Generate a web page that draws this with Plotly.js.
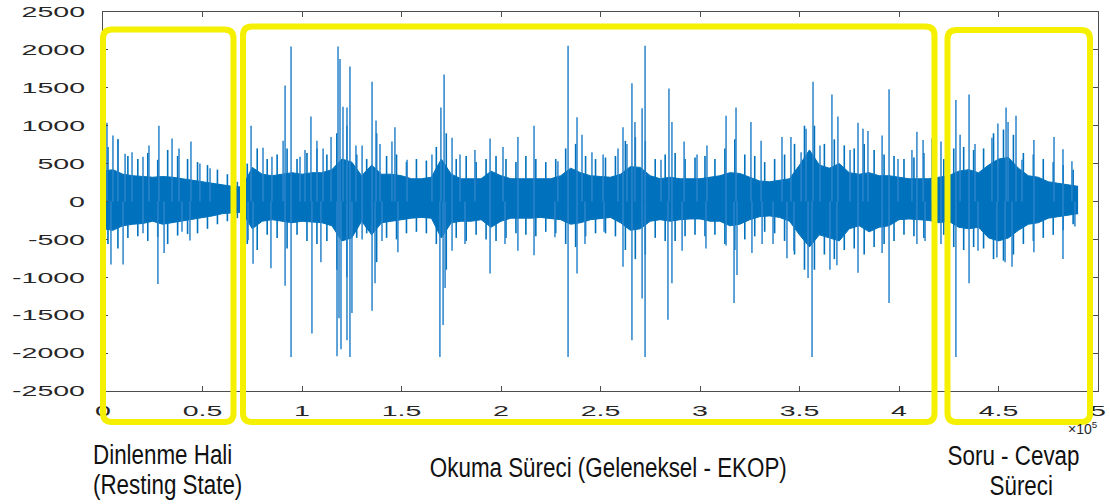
<!DOCTYPE html>
<html>
<head>
<meta charset="utf-8">
<script src="https://cdn.plot.ly/plotly-3.0.1.min.js"></script>
<style>
html,body{margin:0;padding:0;background:#fff;}
#chart{width:1110px;height:504px;}
</style>
</head>
<body>
<div id="chart"></div>
<script>
// ---- data (x in units of 10^5 samples, y in signal amplitude) ----
const envStep = 0.05;
// dense core of the signal, read every 0.05 x 10^5 samples
const coreUp = [400,420,360,340,330,320,330,320,300,280,
  260,240,220,200,190,450,360,340,360,380,
  360,380,380,420,560,520,340,480,360,360,
  340,300,300,320,560,360,300,300,300,400,
  340,300,300,300,300,300,340,440,380,340,
  330,320,360,460,450,340,300,320,300,300,
  300,320,340,380,370,320,270,260,280,300,
  480,680,480,440,500,380,360,380,340,340,
  320,300,300,300,320,340,400,420,380,480,
  560,580,440,340,320,260,240,220,200];
const coreLo = [-360,-380,-320,-300,-290,-260,-300,-280,-260,-240,
  -210,-190,-160,-150,-140,-360,-260,-240,-260,-280,
  -260,-270,-280,-320,-520,-480,-260,-440,-280,-260,
  -240,-220,-210,-220,-480,-280,-260,-260,-240,-340,
  -260,-220,-220,-220,-210,-220,-240,-300,-280,-240,
  -220,-210,-280,-380,-360,-260,-240,-260,-240,-230,
  -230,-260,-260,-320,-300,-240,-200,-190,-210,-260,
  -440,-600,-440,-480,-520,-360,-320,-400,-340,-320,
  -240,-230,-240,-250,-280,-260,-340,-360,-340,-480,
  -520,-480,-380,-300,-280,-220,-200,-180,-160];
// ragged fringe peaks, read midway between core samples (0.025, 0.075, ...)
const fringeUp = [720,820,600,560,640,550,680,600,560,520,480,420,360,
  260,
  500,700,560,620,700,560,
  640,700,620,900,1000,620,560,900,600,620,520,560,540,720,900,560,600,520,560,600,
  560,520,600,560,520,560,700,760,600,560,580,600,800,850,800,560,620,640,560,580,
  600,560,700,820,620,600,520,560,620,760,1000,1000,760,820,740,700,760,680,620,600,
  560,580,640,620,
  560,700,720,680,700,900,950,880,640,620,560,520,480,420];
const fringeLo = [-560,-620,-480,-460,-520,-470,-560,-450,-430,-420,-360,-300,-260,
  -220,
  -560,-640,-440,-480,-620,-440,
  -520,-560,-520,-900,-1000,-480,-420,-800,-480,-500,-420,-400,-420,-560,-900,-480,-520,-440,-500,-520,
  -480,-420,-440,-460,-400,-420,-560,-600,-460,-420,-420,-460,-640,-760,-700,-480,-520,-520,-460,-440,
  -460,-440,-560,-640,-500,-460,-400,-420,-520,-700,-900,-900,-700,-760,-640,-620,-700,-600,-560,-520,
  -440,-460,-480,-500,
  -440,-600,-640,-600,-620,-760,-780,-700,-560,-520,-480,-440,-380,-300];

// tall individual spikes
const spikeUpX = [0.020,0.050,0.075,0.111,0.146,0.201,0.231,0.281,0.347,0.382,0.442,0.487,0.538,
  0.744,0.804,0.849,0.905,0.915,0.945,0.990,1.015,1.045,1.075,1.106,1.146,1.181,1.191,1.206,1.226,1.241,
  1.271,1.302,1.352,1.372,1.392,1.452,1.467,1.528,1.653,1.698,1.714,1.754,1.794,1.869,1.945,
  2.010,2.085,2.166,2.286,2.337,2.382,2.407,2.457,2.513,2.588,2.613,2.633,2.658,2.673,2.709,2.724,
  2.804,2.844,2.859,2.920,2.985,3.035,3.131,3.181,3.256,3.307,3.412,3.457,3.508,3.533,3.568,3.603,
  3.663,3.693,3.754,3.794,3.819,3.844,3.915,3.950,3.995,4.065,4.090,4.121,4.166,4.211,
  4.286,4.307,4.352,4.382,4.467,4.497,4.538,4.548,4.588,4.618,4.678,4.779,4.824,4.869];
const spikeUpY = [1040,870,820,630,650,590,740,1000,830,700,790,500,440,
  1000,710,590,800,1530,2045,590,680,1120,800,700,850,2045,1880,1250,1240,1780,
  740,740,1580,1070,760,790,980,550,620,1240,1675,840,620,680,830,
  720,850,1000,530,2055,1110,880,650,620,700,980,760,1560,1050,1230,2055,
  550,1490,1050,790,620,740,1130,1240,1050,800,850,850,650,960,1580,740,
  1410,1120,680,1040,960,930,870,1480,560,680,920,810,830,790,
  1340,880,1410,760,840,1030,1240,1050,1130,550,810,850,690,530];

const spikeDnX = [0.040,0.101,0.201,0.276,0.307,0.397,0.437,
  0.729,0.754,0.844,0.915,0.945,1.050,1.095,1.176,1.186,1.196,1.226,1.241,1.251,
  1.302,1.352,1.367,1.402,1.482,1.693,1.709,1.719,1.754,1.819,1.945,
  2.020,2.085,2.166,2.271,2.337,2.382,2.422,2.518,2.613,2.658,2.709,2.724,2.839,2.859,2.910,
  3.030,3.131,3.171,3.186,3.261,3.312,3.367,3.437,3.472,3.543,3.563,3.653,3.688,3.794,3.915,3.950,
  4.090,4.131,4.211,4.286,4.352,4.397,4.492,4.533,4.568,4.678,4.824,4.884];
const spikeDnY = [-830,-830,-420,-1090,-680,-400,-515,
  -510,-820,-880,-1110,-2050,-1740,-800,-2040,-1540,-1950,-1830,-2050,-1470,
  -500,-1440,-1080,-520,-670,-2050,-1630,-1140,-650,-560,-950,
  -560,-650,-710,-470,-2050,-950,-560,-400,-860,-1830,-1280,-2050,-1560,-1080,-650,
  -620,-580,-1340,-970,-680,-560,-560,-750,-650,-1010,-2050,-900,-840,-940,-680,-1340,
  -560,-520,-560,-2050,-1080,-650,-740,-800,-860,-670,-760,-330];

const xTickVals = [0,0.5,1,1.5,2,2.5,3,3.5,4,4.5,5];
const xTickText = ['0','0.5','1','1.5','2','2.5','3','3.5','4','4.5','5'];
const yTickVals = [-2500,-2000,-1500,-1000,-500,0,500,1000,1500,2000,2500];
const yTickText = ['-2500','-2000','-1500','-1000','-500','0','500','1000','1500','2000','2500'];

// ---- build traces ----
const envX = coreUp.map((_, i) => +(i * envStep).toFixed(3));
const fringeX = fringeUp.map((_, i) => +((i + 0.5) * envStep).toFixed(3));
const blue = '#0072BD';
const spikeBlue = '#2a84cb';

function spikeSeg(xs, ys) {
  const X = [], Y = [];
  xs.forEach((x, i) => { X.push(x, x, null); Y.push(0, ys[i], null); });
  return {X, Y};
}
const su = spikeSeg(spikeUpX, spikeUpY);
const sd = spikeSeg(spikeDnX, spikeDnY);
const fu = spikeSeg(fringeX, fringeUp);
const fl = spikeSeg(fringeX, fringeLo);

const traces = [
  {x: envX, y: coreUp, mode: 'lines', line: {color: blue, width: 1}, hoverinfo: 'skip'},
  {x: envX, y: coreLo, mode: 'lines', line: {color: blue, width: 1}, fill: 'tonexty', fillcolor: blue, hoverinfo: 'skip'},
  {x: fu.X, y: fu.Y, mode: 'lines', line: {color: blue, width: 1.6}, hoverinfo: 'skip'},
  {x: fl.X, y: fl.Y, mode: 'lines', line: {color: blue, width: 1.6}, hoverinfo: 'skip'},
  {x: su.X, y: su.Y, mode: 'lines', line: {color: spikeBlue, width: 1.5}, hoverinfo: 'skip'},
  {x: sd.X, y: sd.Y, mode: 'lines', line: {color: spikeBlue, width: 1.5}, hoverinfo: 'skip'}
];

// ---- layout helpers (pixel -> paper) ----
const L = 103, R = 12, T = 12, B = 113, W = 1110, H = 504;
const pw = W - L - R, ph = H - T - B;
const px = v => (v - L) / pw;
const py = v => (H - B - v) / ph;

function roundRect(x0, y0, x1, y1, r) {
  const rx = r / pw, ry = r / ph;
  const a = px(x0), b = px(x1), top = py(y0), bot = py(y1);
  return `M${a + rx},${top} L${b - rx},${top} Q${b},${top} ${b},${top - ry} ` +
         `L${b},${bot + ry} Q${b},${bot} ${b - rx},${bot} L${a + rx},${bot} ` +
         `Q${a},${bot} ${a},${bot + ry} L${a},${top - ry} Q${a},${top} ${a + rx},${top} Z`;
}
const yellow = '#f5f000';
const boxStyle = {type: 'path', xref: 'paper', yref: 'paper', line: {color: yellow, width: 6}, fillcolor: 'rgba(0,0,0,0)', layer: 'above'};
const shapes = [
  Object.assign({path: roundRect(103, 29.5, 233.5, 422, 9)}, boxStyle),
  Object.assign({path: roundRect(243, 26.5, 934.5, 422, 9)}, boxStyle),
  Object.assign({path: roundRect(947.5, 30, 1090, 422, 9)}, boxStyle)
];

const capFont = {family: '"Liberation Sans", Arial, sans-serif', size: 27, color: '#111111'};
function ann(text, x, y, xanchor) {
  return {text: text, xref: 'paper', yref: 'paper', x: px(x), y: py(y), xanchor: xanchor, yanchor: 'middle',
          showarrow: false, font: capFont, align: xanchor === 'left' ? 'left' : 'center', borderpad: 0};
}
const annotations = [
  ann('Dinlenme Hali', 92, 455, 'left'),
  ann('(Resting State)', 92, 485, 'left'),
  ann('Okuma Süreci (Geleneksel - EKOP)', 608, 468, 'center'),
  ann('Soru - Cevap', 1013, 456, 'center'),
  ann('Süreci', 1021, 486, 'center'),
  {text: '×10<sup>5</sup>', xref: 'paper', yref: 'paper', x: px(1099), y: py(428), xanchor: 'right', yanchor: 'middle',
   showarrow: false, borderpad: 0, font: {family: '"Liberation Sans", Arial, sans-serif', size: 14, color: '#262626'}}
];

const axisCommon = {
  showline: true, linecolor: '#4d4d4d', linewidth: 1, mirror: 'ticks',
  ticks: 'inside', ticklen: 5, tickcolor: '#4d4d4d', tickwidth: 1,
  showgrid: false, zeroline: false, tickmode: 'array',
  tickfont: {family: '"Liberation Sans", Arial, sans-serif', size: 15, color: '#262626'}
};
const layout = {
  width: W, height: H,
  margin: {l: L, r: R, t: T, b: B},
  paper_bgcolor: '#ffffff', plot_bgcolor: '#ffffff',
  showlegend: false,
  xaxis: Object.assign({}, axisCommon, {range: [0, 5], tickvals: xTickVals, ticktext: xTickText, ticklabelstandoff: 6}),
  yaxis: Object.assign({}, axisCommon, {range: [-2500, 2500], tickvals: yTickVals, ticktext: yTickText, ticklabelstandoff: 14}),
  shapes: shapes,
  annotations: annotations
};

// the reference picture is stretched sideways: widen tick glyphs, narrow caption glyphs
const tickStretch = 1.9;
const capTarget = 357; // px width of the longest caption in the reference
Plotly.newPlot('chart', traces, layout, {staticPlot: true, displayModeBar: false}).then(gd => {
  gd.querySelectorAll('.xtick text, .ytick text').forEach(t => {
    const w = t.getComputedTextLength();
    t.setAttribute('textLength', (w * tickStretch).toFixed(1));
    t.setAttribute('lengthAdjust', 'spacingAndGlyphs');
  });
  const caps = Array.from(gd.querySelectorAll('.annotation-text')).filter(t => t.textContent.indexOf('×') < 0);
  const longest = caps.find(t => t.textContent.indexOf('Okuma') === 0);
  const k = capTarget / longest.getComputedTextLength();
  caps.forEach(t => {
    const w = t.getComputedTextLength();
    t.setAttribute('textLength', (w * k).toFixed(1));
    t.setAttribute('lengthAdjust', 'spacingAndGlyphs');
  });
});
</script>
</body>
</html>
